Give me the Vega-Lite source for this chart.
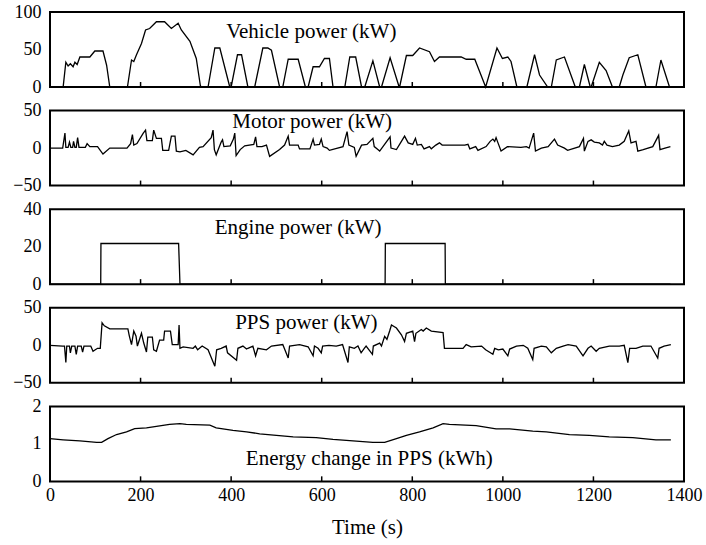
{
  "$schema": "https://vega.github.io/schema/vega-lite/v6.json",
  "padding": {"left": 5, "top": 2, "right": 0, "bottom": 0},
  "bounds": "flush",
  "spacing": 23.6,
  "config": {
    "font": "Liberation Serif",
    "view": {"stroke": "#000", "strokeWidth": 2},
    "axis": {"labelFont": "Liberation Serif", "labelFontSize": 18, "labelColor": "#000", "titleFont": "Liberation Serif", "titleFontSize": 21, "titleFontWeight": "normal", "titleColor": "#000", "domain": false, "grid": false, "ticks": false, "labelOverlap": false, "labelFlush": false},
    "line": {"color": "#000", "strokeWidth": 1.3},
    "rule": {"color": "#000", "strokeWidth": 1.5},
    "text": {"font": "Liberation Serif", "fontSize": 21, "color": "#000"}
  },
  "datasets": {
    "ticks": [{"t":200},{"t":400},{"t":600},{"t":800},{"t":1000},{"t":1200}],
    "vehicle": [
      {"t":0,"v":0},{"t":29,"v":0},{"t":35,"v":33},{"t":40,"v":28},{"t":45,"v":31},{"t":51,"v":27},{"t":55,"v":33},{"t":60,"v":30},{"t":66,"v":40},{"t":88,"v":40},{"t":99,"v":48},{"t":117,"v":48},{"t":125,"v":29},{"t":132,"v":0},
      {"t":171,"v":0},{"t":180,"v":36},{"t":185,"v":34},{"t":191,"v":43},{"t":202,"v":58},{"t":211,"v":76},{"t":220,"v":78},{"t":235,"v":87},{"t":253,"v":87},{"t":268,"v":78},{"t":283,"v":85},{"t":290,"v":76},{"t":309,"v":61},{"t":323,"v":38},{"t":332,"v":2},{"t":334,"v":0},
      {"t":349,"v":0},{"t":364,"v":52},{"t":375,"v":52},{"t":397,"v":0},{"t":400,"v":0},{"t":414,"v":43},{"t":423,"v":43},{"t":437,"v":0},{"t":452,"v":0},{"t":470,"v":52},{"t":481,"v":52},{"t":489,"v":49},{"t":507,"v":0},
      {"t":514,"v":0},{"t":526,"v":37},{"t":548,"v":37},{"t":564,"v":0},{"t":570,"v":0},{"t":581,"v":27},{"t":595,"v":27},{"t":606,"v":38},{"t":617,"v":38},{"t":625,"v":0},{"t":651,"v":0},{"t":662,"v":40},{"t":675,"v":40},{"t":688,"v":0},
      {"t":695,"v":0},{"t":713,"v":35},{"t":728,"v":0},{"t":732,"v":0},{"t":751,"v":39},{"t":771,"v":0},{"t":772,"v":0},{"t":787,"v":42},{"t":801,"v":42},{"t":816,"v":52},{"t":838,"v":47},{"t":849,"v":34},{"t":860,"v":40},{"t":908,"v":40},{"t":919,"v":37},{"t":938,"v":37},{"t":962,"v":0},
      {"t":987,"v":52},{"t":999,"v":38},{"t":1011,"v":40},{"t":1018,"v":34},{"t":1031,"v":0},{"t":1053,"v":0},{"t":1070,"v":43},{"t":1081,"v":16},{"t":1099,"v":0},{"t":1107,"v":0},{"t":1118,"v":36},{"t":1136,"v":40},{"t":1160,"v":0},
      {"t":1169,"v":0},{"t":1180,"v":30},{"t":1193,"v":0},{"t":1195,"v":0},{"t":1213,"v":33},{"t":1228,"v":22},{"t":1242,"v":0},{"t":1257,"v":0},{"t":1265,"v":16},{"t":1279,"v":39},{"t":1298,"v":43},{"t":1316,"v":0},{"t":1338,"v":0},{"t":1349,"v":36},{"t":1368,"v":0},{"t":1370,"v":0}
    ],
    "motor": [
      {"t":0,"v":0},{"t":28,"v":0},{"t":33,"v":20},{"t":35,"v":1},{"t":40,"v":1},{"t":43,"v":8},{"t":46,"v":1},{"t":50,"v":1},{"t":52,"v":9},{"t":55,"v":1},{"t":58,"v":1},{"t":61,"v":14},{"t":64,"v":1},{"t":78,"v":1},{"t":82,"v":6},{"t":88,"v":2},{"t":105,"v":2},{"t":117,"v":-8},{"t":132,"v":0},
      {"t":170,"v":0},{"t":178,"v":6},{"t":182,"v":18},{"t":185,"v":4},{"t":192,"v":6},{"t":206,"v":20},{"t":211,"v":24},{"t":214,"v":10},{"t":226,"v":10},{"t":229,"v":24},{"t":235,"v":13},{"t":246,"v":13},{"t":249,"v":-3},{"t":262,"v":-3},{"t":268,"v":16},{"t":276,"v":16},{"t":279,"v":-4},{"t":287,"v":-5},{"t":300,"v":-3},{"t":316,"v":-9},{"t":330,"v":1},{"t":338,"v":2},{"t":356,"v":14},{"t":360,"v":24},{"t":363,"v":-2},{"t":367,"v":-9},{"t":378,"v":8},{"t":381,"v":11},{"t":384,"v":2},{"t":398,"v":3},{"t":405,"v":12},{"t":408,"v":20},{"t":411,"v":-10},{"t":420,"v":-2},{"t":430,"v":3},{"t":450,"v":5},{"t":454,"v":15},{"t":457,"v":2},{"t":468,"v":2},{"t":478,"v":4},{"t":485,"v":-11},
      {"t":507,"v":-2},{"t":518,"v":4},{"t":526,"v":16},{"t":529,"v":4},{"t":548,"v":4},{"t":551,"v":-1},{"t":574,"v":-1},{"t":581,"v":12},{"t":584,"v":4},{"t":595,"v":5},{"t":599,"v":12},{"t":603,"v":2},{"t":612,"v":0},{"t":617,"v":-3},{"t":647,"v":2},{"t":656,"v":22},{"t":660,"v":4},{"t":672,"v":1},{"t":676,"v":-11},{"t":688,"v":4},{"t":700,"v":5},{"t":713,"v":13},{"t":716,"v":2},{"t":724,"v":-2},{"t":728,"v":-4},{"t":751,"v":15},{"t":753,"v":0},{"t":765,"v":-2},{"t":775,"v":8},{"t":783,"v":16},{"t":791,"v":7},{"t":801,"v":5},{"t":807,"v":13},{"t":811,"v":4},{"t":820,"v":5},{"t":826,"v":-1},{"t":838,"v":2},{"t":842,"v":-1},{"t":852,"v":4},{"t":860,"v":7},{"t":866,"v":4},{"t":916,"v":4},{"t":923,"v":5},{"t":927,"v":-1},{"t":940,"v":2},{"t":945,"v":-3},
      {"t":963,"v":2},{"t":972,"v":9},{"t":978,"v":12},{"t":982,"v":9},{"t":985,"v":14},{"t":988,"v":9},{"t":996,"v":-4},{"t":1010,"v":2},{"t":1040,"v":1},{"t":1052,"v":2},{"t":1058,"v":0},{"t":1068,"v":20},{"t":1072,"v":-4},{"t":1085,"v":0},{"t":1100,"v":2},{"t":1114,"v":12},{"t":1121,"v":4},{"t":1136,"v":0},{"t":1143,"v":-3},{"t":1169,"v":2},{"t":1178,"v":13},{"t":1180,"v":-4},{"t":1188,"v":9},{"t":1195,"v":11},{"t":1202,"v":8},{"t":1213,"v":7},{"t":1220,"v":4},{"t":1224,"v":9},{"t":1230,"v":4},{"t":1242,"v":2},{"t":1257,"v":4},{"t":1268,"v":9},{"t":1278,"v":23},{"t":1283,"v":7},{"t":1294,"v":9},{"t":1298,"v":-4},{"t":1310,"v":-2},{"t":1331,"v":2},{"t":1344,"v":17},{"t":1347,"v":-2},{"t":1358,"v":0},{"t":1370,"v":2}
    ],
    "engine": [
      {"t":0,"v":0},{"t":112,"v":0},{"t":112.5,"v":21.7},{"t":284,"v":21.7},{"t":287,"v":0},{"t":740,"v":0},{"t":740.5,"v":21.7},{"t":872.5,"v":21.7},{"t":873,"v":0},{"t":1370,"v":0}
    ],
    "pps": [
      {"t":0,"v":0},{"t":28,"v":-1},{"t":32,"v":-1},{"t":35,"v":-23},{"t":37,"v":-1},{"t":43,"v":-1},{"t":45,"v":-10},{"t":48,"v":-1},{"t":55,"v":-1},{"t":58,"v":-12},{"t":61,"v":-1},{"t":69,"v":-1},{"t":72,"v":-9},{"t":75,"v":-1},{"t":90,"v":-1},{"t":95,"v":-8},{"t":100,"v":-6},{"t":105,"v":-4},{"t":111,"v":-4},
      {"t":115,"v":30},{"t":120,"v":26},{"t":132,"v":22},{"t":172,"v":22},{"t":175,"v":13},{"t":180,"v":1},{"t":185,"v":19},{"t":190,"v":12},{"t":193,"v":-1},{"t":202,"v":16},{"t":207,"v":3},{"t":213,"v":-9},{"t":216,"v":11},{"t":226,"v":11},{"t":229,"v":-6},{"t":235,"v":-8},{"t":242,"v":7},{"t":251,"v":7},{"t":253,"v":19},{"t":266,"v":19},{"t":270,"v":1},{"t":283,"v":1},{"t":285,"v":27},{"t":287,"v":-4},
      {"t":294,"v":-2},{"t":316,"v":-4},{"t":321,"v":-1},{"t":326,"v":-6},{"t":336,"v":-1},{"t":349,"v":-6},{"t":364,"v":-28},{"t":368,"v":-6},{"t":378,"v":-4},{"t":389,"v":-1},{"t":392,"v":-10},{"t":412,"v":-20},{"t":415,"v":-4},{"t":426,"v":-1},{"t":434,"v":-5},{"t":437,"v":-4},{"t":448,"v":-1},{"t":454,"v":-14},{"t":459,"v":-4},{"t":478,"v":-6},{"t":489,"v":-1},
      {"t":514,"v":1},{"t":526,"v":-17},{"t":529,"v":-1},{"t":551,"v":1},{"t":570,"v":-2},{"t":581,"v":-14},{"t":584,"v":-1},{"t":592,"v":-4},{"t":599,"v":-10},{"t":602,"v":-1},{"t":616,"v":0},{"t":632,"v":-1},{"t":646,"v":1},{"t":658,"v":-23},{"t":661,"v":-2},{"t":672,"v":-4},{"t":680,"v":-1},{"t":687,"v":-10},{"t":694,"v":-4},{"t":698,"v":-1},{"t":712,"v":-12},{"t":714,"v":-1},{"t":728,"v":3},{"t":732,"v":-1},
      {"t":739,"v":12},{"t":744,"v":8},{"t":750,"v":19},{"t":754,"v":27},{"t":765,"v":23},{"t":776,"v":14},{"t":783,"v":5},{"t":787,"v":16},{"t":801,"v":19},{"t":805,"v":5},{"t":808,"v":16},{"t":820,"v":21},{"t":824,"v":19},{"t":831,"v":23},{"t":842,"v":19},{"t":868,"v":17},{"t":871,"v":-4},
      {"t":912,"v":-4},{"t":919,"v":1},{"t":930,"v":-2},{"t":953,"v":-1},{"t":962,"v":-6},{"t":978,"v":-12},{"t":982,"v":-4},{"t":990,"v":-6},{"t":1000,"v":-5},{"t":1011,"v":-14},{"t":1015,"v":-5},{"t":1030,"v":-1},{"t":1045,"v":0},{"t":1055,"v":-4},{"t":1066,"v":-19},{"t":1069,"v":-4},{"t":1085,"v":-1},{"t":1096,"v":-2},{"t":1107,"v":-10},{"t":1118,"v":-4},{"t":1133,"v":-1},{"t":1144,"v":1},{"t":1162,"v":-1},{"t":1177,"v":-14},{"t":1188,"v":-4},{"t":1195,"v":-1},{"t":1206,"v":-8},{"t":1213,"v":-4},{"t":1235,"v":-1},{"t":1257,"v":-1},{"t":1268,"v":0},{"t":1276,"v":-23},{"t":1280,"v":-4},{"t":1294,"v":-4},{"t":1309,"v":-1},{"t":1327,"v":-1},{"t":1342,"v":-17},{"t":1345,"v":-4},{"t":1356,"v":-1},{"t":1371,"v":1}
    ],
    "energy": [
      {"t":0,"v":1.14},{"t":29,"v":1.11},{"t":66,"v":1.08},{"t":103,"v":1.04},{"t":114,"v":1.04},{"t":128,"v":1.14},{"t":147,"v":1.25},{"t":169,"v":1.32},{"t":187,"v":1.41},{"t":213,"v":1.43},{"t":235,"v":1.47},{"t":264,"v":1.52},{"t":287,"v":1.54},{"t":301,"v":1.52},{"t":353,"v":1.5},{"t":367,"v":1.43},{"t":404,"v":1.36},{"t":434,"v":1.32},{"t":463,"v":1.27},{"t":500,"v":1.23},{"t":537,"v":1.19},{"t":588,"v":1.17},{"t":625,"v":1.12},{"t":669,"v":1.08},{"t":713,"v":1.04},{"t":739,"v":1.04},{"t":765,"v":1.14},{"t":787,"v":1.23},{"t":816,"v":1.32},{"t":846,"v":1.43},{"t":868,"v":1.54},{"t":882,"v":1.52},{"t":941,"v":1.49},{"t":985,"v":1.4},{"t":1015,"v":1.4},{"t":1066,"v":1.34},{"t":1096,"v":1.32},{"t":1147,"v":1.25},{"t":1191,"v":1.23},{"t":1235,"v":1.19},{"t":1287,"v":1.17},{"t":1338,"v":1.11},{"t":1371,"v":1.11}
    ]
  },
  "vconcat": [
    {
      "width": 634, "height": 75,
      "resolve": {"axis": {"x": "independent", "y": "independent"}},
      "layer": [
        {"data": {"name": "vehicle"}, "mark": "line",
         "encoding": {
           "x": {"field": "t", "type": "quantitative", "scale": {"domain": [0, 1400]}, "axis": {"values": [200,400,600,800,1000,1200], "labels": false, "title": null}},
           "y": {"field": "v", "type": "quantitative", "scale": {"domain": [0, 100]}, "axis": {"values": [0,50,100], "title": null, "labelPadding": 9, "minExtent": 43.5, "maxExtent": 43.5}}
         }},
        {"data": {"name": "ticks"}, "mark": "rule",
         "encoding": {"x": {"field": "t", "type": "quantitative", "axis": null}, "y": {"datum": 0, "type": "quantitative", "axis": null}, "y2": {"datum": 6.7}}},
        {"data": {"values": [{"label": "Vehicle power (kW)"}]}, "mark": "text",
         "encoding": {"x": {"datum": 577, "type": "quantitative", "axis": null}, "y": {"datum": 74, "type": "quantitative", "axis": null}, "text": {"field": "label"}}}
      ]
    },
    {
      "width": 634, "height": 75,
      "resolve": {"axis": {"x": "independent", "y": "independent"}},
      "layer": [
        {"data": {"name": "motor"}, "mark": "line",
         "encoding": {
           "x": {"field": "t", "type": "quantitative", "scale": {"domain": [0, 1400]}, "axis": {"values": [200,400,600,800,1000,1200], "labels": false, "title": null}},
           "y": {"field": "v", "type": "quantitative", "scale": {"domain": [-50, 50]}, "axis": {"values": [-50,0,50], "title": null, "labelPadding": 9, "minExtent": 43.5, "maxExtent": 43.5}}
         }},
        {"data": {"name": "ticks"}, "mark": "rule",
         "encoding": {"x": {"field": "t", "type": "quantitative", "axis": null}, "y": {"datum": -50, "type": "quantitative", "axis": null}, "y2": {"datum": -43.3}}},
        {"data": {"values": [{"label": "Motor power (kW)"}]}, "mark": "text",
         "encoding": {"x": {"datum": 579, "type": "quantitative", "axis": null}, "y": {"datum": 35, "type": "quantitative", "axis": null}, "text": {"field": "label"}}}
      ]
    },
    {
      "width": 634, "height": 75,
      "resolve": {"axis": {"x": "independent", "y": "independent"}},
      "layer": [
        {"data": {"name": "engine"}, "mark": "line",
         "encoding": {
           "x": {"field": "t", "type": "quantitative", "scale": {"domain": [0, 1400]}, "axis": {"values": [200,400,600,800,1000,1200], "labels": false, "title": null}},
           "y": {"field": "v", "type": "quantitative", "scale": {"domain": [0, 40]}, "axis": {"values": [0,20,40], "title": null, "labelPadding": 9, "minExtent": 43.5, "maxExtent": 43.5}}
         }},
        {"data": {"name": "ticks"}, "mark": "rule",
         "encoding": {"x": {"field": "t", "type": "quantitative", "axis": null}, "y": {"datum": 0, "type": "quantitative", "axis": null}, "y2": {"datum": 2.7}}},
        {"data": {"values": [{"label": "Engine power (kW)"}]}, "mark": "text",
         "encoding": {"x": {"datum": 548, "type": "quantitative", "axis": null}, "y": {"datum": 30, "type": "quantitative", "axis": null}, "text": {"field": "label"}}}
      ]
    },
    {
      "width": 634, "height": 75,
      "resolve": {"axis": {"x": "independent", "y": "independent"}},
      "layer": [
        {"data": {"name": "pps"}, "mark": "line",
         "encoding": {
           "x": {"field": "t", "type": "quantitative", "scale": {"domain": [0, 1400]}, "axis": {"values": [200,400,600,800,1000,1200], "labels": false, "title": null}},
           "y": {"field": "v", "type": "quantitative", "scale": {"domain": [-50, 50]}, "axis": {"values": [-50,0,50], "title": null, "labelPadding": 9, "minExtent": 43.5, "maxExtent": 43.5}}
         }},
        {"data": {"name": "ticks"}, "mark": "rule",
         "encoding": {"x": {"field": "t", "type": "quantitative", "axis": null}, "y": {"datum": -50, "type": "quantitative", "axis": null}, "y2": {"datum": -43.3}}},
        {"data": {"values": [{"label": "PPS power (kW)"}]}, "mark": "text",
         "encoding": {"x": {"datum": 566, "type": "quantitative", "axis": null}, "y": {"datum": 30, "type": "quantitative", "axis": null}, "text": {"field": "label"}}}
      ]
    },
    {
      "width": 634, "height": 75,
      "resolve": {"axis": {"x": "independent", "y": "independent"}},
      "layer": [
        {"data": {"name": "energy"}, "mark": "line",
         "encoding": {
           "x": {"field": "t", "type": "quantitative", "scale": {"domain": [0, 1400]}, "axis": {"values": [0,200,400,600,800,1000,1200,1400], "labelExpr": "toString(datum.value)", "title": "Time (s)", "labelPadding": 5, "titlePadding": 12}},
           "y": {"field": "v", "type": "quantitative", "scale": {"domain": [0, 2]}, "axis": {"values": [0,1,2], "labelExpr": "toString(datum.value)", "title": null, "labelPadding": 9, "minExtent": 43.5, "maxExtent": 43.5}}
         }},
        {"data": {"name": "ticks"}, "mark": "rule",
         "encoding": {"x": {"field": "t", "type": "quantitative", "axis": null}, "y": {"datum": 0, "type": "quantitative", "axis": null}, "y2": {"datum": 0.135}}},
        {"data": {"values": [{"label": "Energy change in PPS (kWh)"}]}, "mark": "text",
         "encoding": {"x": {"datum": 705, "type": "quantitative", "axis": null}, "y": {"datum": 0.6, "type": "quantitative", "axis": null}, "text": {"field": "label"}}}
      ]
    }
  ]
}
